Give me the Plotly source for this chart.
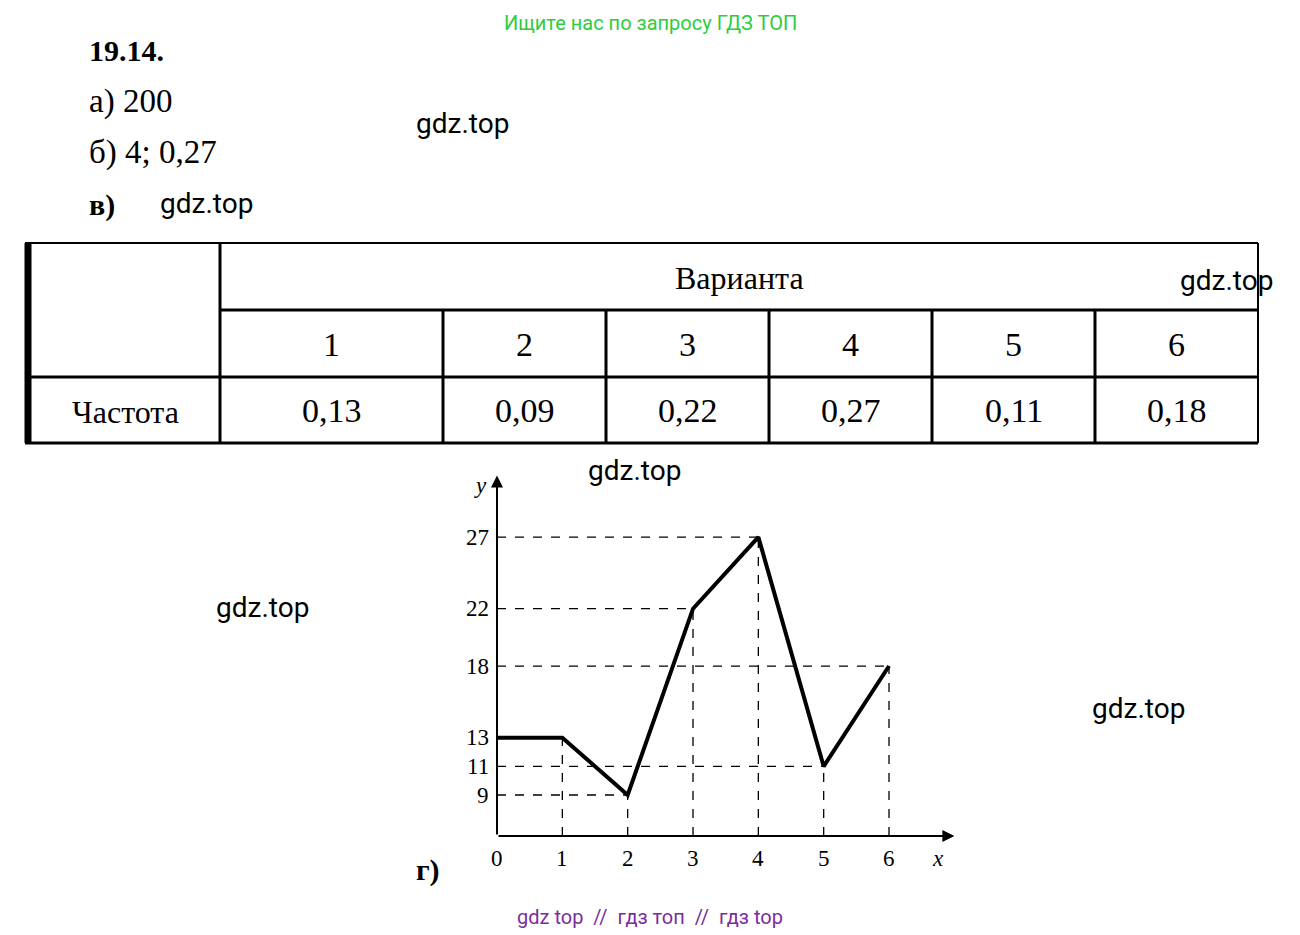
import plotly.graph_objects as go

W, H = 1300, 935
OFF = 8  # page margin in the browser

variants = ['1', '2', '3', '4', '5', '6']
freqs = ['0,13', '0,09', '0,22', '0,27', '0,11', '0,18']
xs = [0, 1, 2, 3, 4, 5, 6]
ys = [13, 13, 9, 22, 27, 11, 18]
ytick_vals = [9, 11, 13, 18, 22, 27]
serif = 'Liberation Serif'
sans = 'Roboto'


def px(x, y):
    return (x - OFF) / W, 1 - (y - OFF) / H


fig = go.Figure()

# polygon line
fig.add_trace(go.Scatter(x=xs, y=ys, mode='lines', line=dict(color='black', width=4),
                         hoverinfo='skip', showlegend=False))

shapes = []
# dashed guides
for x, y in zip(xs[1:], ys[1:]):
    shapes.append(dict(type='line', xref='x', yref='y', x0=x, x1=x, y0=6.14, y1=y,
                       line=dict(color='black', width=1.3, dash='dash')))
for y in ytick_vals:
    xi = xs[ys.index(y)]
    shapes.append(dict(type='line', xref='x', yref='y', x0=0, x1=xi, y0=y, y1=y,
                       line=dict(color='black', width=1.3, dash='dash')))

# table grid
cols = [25, 220, 443, 606, 769, 932, 1095, 1258]


def pline(x0, y0, x1, y1, w=2):
    a, b = px(x0, y0)
    c, d = px(x1, y1)
    shapes.append(dict(type='line', xref='paper', yref='paper', x0=a, y0=b, x1=c, y1=d,
                       line=dict(color='black', width=w)))


pline(25, 243, 1258, 243)
pline(25, 443, 1258, 443, 3)
pline(25, 377, 1258, 377, 3)
pline(220, 310, 1258, 310, 3)
pline(1258, 243, 1258, 443)
pline(28, 243, 28, 443, 7)
pline(220, 243, 220, 443, 3)
for c in cols[2:-1]:
    pline(c, 310, c, 443, 3)

annotations = []


def txt(x, y, s, size, font=serif, color='black', bold=False, xanchor='center', yanchor='middle'):
    a, b = px(x, y)
    annotations.append(dict(x=a, y=b, xref='paper', yref='paper', text=f'<b>{s}</b>' if bold else s,
                            showarrow=False, xanchor=xanchor, yanchor=yanchor,
                            font=dict(family=font, size=size, color=color)))


a, b = px(650, 0)
annotations.append(dict(x=a, y=1, xref='paper', yref='paper', text='Ищите нас по запросу ГДЗ ТОП',
                        showarrow=False, xanchor='center', yanchor='top', yshift=-1,
                        font=dict(family=sans, size=20, color='#2ecc40')))
txt(87, 50, '19.14.', 30, bold=True, xanchor='left')
txt(87, 101, 'а) 200', 33, xanchor='left')
txt(87, 152, 'б) 4; 0,27', 33, xanchor='left')
txt(87, 205, 'в)', 30, bold=True, xanchor='left')
txt(740, 278, 'Варианта', 32)
txt(125, 412, 'Частота', 32)
for i, (v, f) in enumerate(zip(variants, freqs)):
    cx = (cols[i + 1] + cols[i + 2]) / 2
    txt(cx, 344, v, 34)
    txt(cx, 410, f, 34)
for (x, y) in [(462, 124), (206, 204), (1226, 280), (634, 471), (262, 607), (1138, 708)]:
    txt(x, y, 'gdz.top', 28, sans)
txt(650, 917, 'gdz top  //  гдз топ  //  гдз top', 20, sans, '#7b2d9e')
txt(428, 870, 'г)', 30, bold=True)

# axes ticks
for x in xs:
    annotations.append(dict(x=x, y=6.14, xref='x', yref='y', text=str(x), showarrow=False,
                            yanchor='top', yshift=-8, font=dict(family=serif, size=23, color='black')))
for y in ytick_vals:
    annotations.append(dict(x=0, y=y, xref='x', yref='y', text=str(y), showarrow=False,
                            xanchor='right', xshift=-6, font=dict(family=serif, size=23, color='black')))
annotations.append(dict(x=6.75, y=6.14, xref='x', yref='y', text='<i>x</i>', showarrow=False,
                        yanchor='top', yshift=-8, font=dict(family=serif, size=23, color='black')))
annotations.append(dict(x=0, y=30.6, xref='x', yref='y', text='<i>y</i>', showarrow=False,
                        xanchor='right', xshift=-8, font=dict(family=serif, size=23, color='black')))
# axis arrows
annotations.append(dict(x=7.0, y=6.14, ax=0, ay=6.14, xref='x', yref='y', axref='x', ayref='y',
                        text='', showarrow=True, arrowhead=2, arrowwidth=2, arrowsize=1.2,
                        arrowcolor='black'))
annotations.append(dict(x=0, y=31.3, ax=0, ay=6.14, xref='x', yref='y', axref='x', ayref='y',
                        text='', showarrow=True, arrowhead=2, arrowwidth=2, arrowsize=1.2,
                        arrowcolor='black'))

fig.update_layout(
    width=W, height=H, margin=dict(l=0, r=0, t=0, b=0),
    plot_bgcolor='white', paper_bgcolor='white',
    xaxis=dict(domain=[(497 - OFF) / W, (955 - OFF) / W], range=[0, 7.01], visible=False),
    yaxis=dict(domain=[1 - (836 - OFF) / H, 1 - (475 - OFF) / H], range=[6.14, 31.33], visible=False),
    shapes=shapes, annotations=annotations,
)

fig.write_html('out.html')
